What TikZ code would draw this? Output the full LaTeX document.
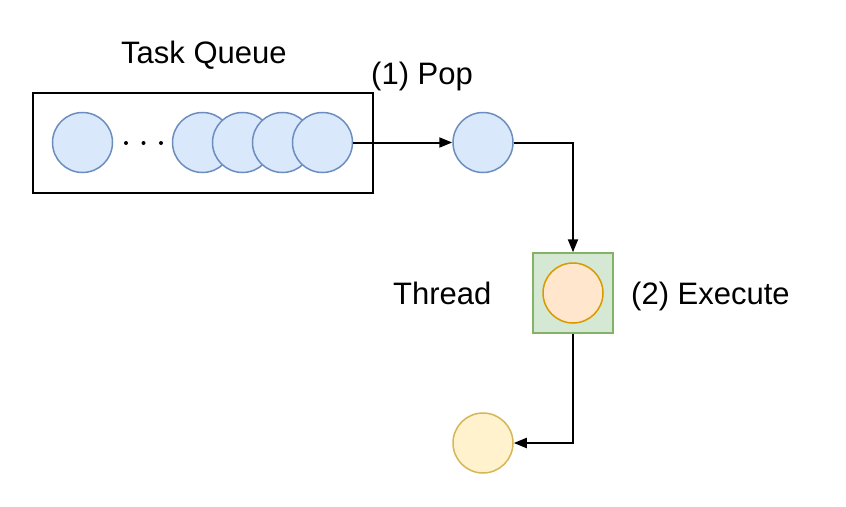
\documentclass[tikz,border=0pt]{standalone}
\usepackage{fontspec}
\setmainfont{Liberation Sans}
\usetikzlibrary{arrows.meta}
\definecolor{bluefill}{HTML}{DAE8FC}
\definecolor{bluedraw}{HTML}{6C8EBF}
\definecolor{greenfill}{HTML}{D5E8D4}
\definecolor{greendraw}{HTML}{82B366}
\definecolor{orangefill}{HTML}{FFE6CC}
\definecolor{orangedraw}{HTML}{D79B00}
\definecolor{yellowfill}{HTML}{FFF2CC}
\definecolor{yellowdraw}{HTML}{D6B656}
\begin{document}
\begin{tikzpicture}[x=1pt,y=-1pt,
  task/.style={circle,minimum size=60pt,inner sep=0pt,line width=1.5pt,draw=bluedraw,fill=bluefill},
  label/.style={inner sep=0pt,anchor=base west,font=\fontsize{31}{36}\selectfont},
  conn/.style={line width=2pt,-{Triangle[length=13pt,width=10pt]}},
  dotmark/.style={circle,fill=black,inner sep=0pt,minimum size=4pt}]
\useasboundingbox (0,0) rectangle (846,506);
\fill[white] (0,0) rectangle (846,506);
% queue
\node[draw=black,line width=2pt,minimum width=340pt,minimum height=100pt,inner sep=0pt] (queue) at (203,143) {};
\node[task] (q0) at (82.5,142.5) {};
\node[dotmark] (d1) at (126,143) {};
\node[dotmark] (d2) at (143.5,143) {};
\node[dotmark] (d3) at (161,143) {};
\node[task] (q1) at (202.5,142.5) {};
\node[task] (q2) at (242.5,142.5) {};
\node[task] (q3) at (282.5,142.5) {};
\node[task] (q4) at (322.5,142.5) {};
% popped task
\node[task] (pop) at (483,142.5) {};
% thread
\node[draw=greendraw,fill=greenfill,line width=1.5pt,minimum size=80pt,inner sep=0pt] (thread) at (573,293) {};
\node[circle,minimum size=60pt,inner sep=0pt,line width=1.5pt,draw=orangedraw,fill=orangefill] (run) at (573,293) {};
% done
\node[circle,minimum size=60pt,inner sep=0pt,line width=1.5pt,draw=yellowdraw,fill=yellowfill] (done) at (483,443) {};
% labels
\node[label] (tq) at (121,63) {Task Queue};
\node[label] (lpop) at (371,84) {(1) Pop};
\node[label] (lthread) at (393,304) {Thread};
\node[label] (lexec) at (631,304) {(2) Execute};
% connectors
\draw[conn] (q4.east) -- (pop.west);
\draw[conn] (pop.east) -| (thread.north);
\draw[conn] (thread.south) |- (done.east);
\end{tikzpicture}
\end{document}
